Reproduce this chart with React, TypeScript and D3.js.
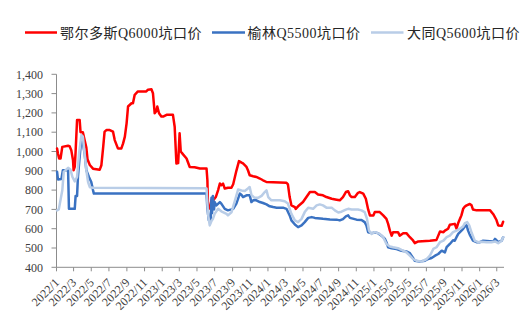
import React from "react";
import * as d3 from "d3";

// 坑口价 (元/吨), sampled at the dates where the price path turns
const ordosQ6000: [string, number][] = [
  ["2022-01-03", 1016], ["2022-01-06", 990], ["2022-01-10", 964], ["2022-01-15", 964],
  ["2022-01-21", 1024], ["2022-02-10", 1030], ["2022-02-15", 1028], ["2022-02-21", 1007],
  ["2022-02-27", 955], ["2022-03-01", 903], ["2022-03-05", 920], ["2022-03-08", 1000],
  ["2022-03-13", 1163], ["2022-03-22", 1163], ["2022-03-25", 1100], ["2022-04-02", 1100],
  ["2022-04-08", 1059], ["2022-04-14", 1020], ["2022-04-18", 960], ["2022-04-26", 930],
  ["2022-05-07", 911], ["2022-05-30", 905], ["2022-06-05", 929], ["2022-06-11", 1020],
  ["2022-06-16", 1103], ["2022-06-23", 1111], ["2022-07-04", 1111], ["2022-07-15", 1103],
  ["2022-07-21", 1059], ["2022-08-01", 1016], ["2022-08-13", 1016], ["2022-08-19", 1042],
  ["2022-08-25", 1077], ["2022-08-31", 1146], ["2022-09-05", 1233], ["2022-09-17", 1250],
  ["2022-09-22", 1250], ["2022-09-28", 1294], ["2022-10-09", 1311], ["2022-11-07", 1311],
  ["2022-11-13", 1320], ["2022-11-25", 1322], ["2022-11-30", 1302], ["2022-12-03", 1250],
  ["2022-12-06", 1198], ["2022-12-12", 1210], ["2022-12-15", 1233], ["2022-12-21", 1198],
  ["2022-12-29", 1181], ["2023-01-04", 1181], ["2023-01-16", 1190], ["2023-02-07", 1190],
  ["2023-02-13", 1128], ["2023-02-19", 938], ["2023-02-25", 940], ["2023-03-02", 1094],
  ["2023-03-06", 1000], ["2023-03-14", 985], ["2023-03-26", 964], ["2023-04-06", 920],
  ["2023-04-23", 918], ["2023-05-11", 912], ["2023-06-03", 912], ["2023-06-06", 851],
  ["2023-06-08", 712], ["2023-06-14", 705], ["2023-06-20", 747], ["2023-06-25", 745],
  ["2023-07-05", 764], ["2023-07-13", 800], ["2023-07-19", 834], ["2023-07-24", 825],
  ["2023-07-30", 834], ["2023-08-05", 808], ["2023-08-16", 812], ["2023-08-28", 812],
  ["2023-09-03", 830], ["2023-09-14", 900], ["2023-09-23", 950], ["2023-10-02", 942],
  ["2023-10-07", 938], ["2023-10-19", 920], ["2023-10-24", 903], ["2023-10-30", 877],
  ["2023-11-11", 872], ["2023-11-22", 868], ["2023-12-04", 860], ["2023-12-15", 851],
  ["2023-12-27", 842], ["2024-03-05", 838], ["2024-03-10", 830], ["2024-03-16", 764],
  ["2024-03-22", 721], ["2024-04-03", 712], ["2024-04-06", 703], ["2024-04-14", 716],
  ["2024-05-01", 738], ["2024-05-13", 764], ["2024-05-25", 790], ["2024-06-11", 790],
  ["2024-06-22", 777], ["2024-07-09", 773], ["2024-07-21", 764], ["2024-08-08", 755],
  ["2024-08-25", 750], ["2024-09-05", 747], ["2024-09-16", 764], ["2024-09-26", 790],
  ["2024-10-04", 794], ["2024-10-10", 773], ["2024-10-16", 764], ["2024-10-27", 764],
  ["2024-11-07", 786], ["2024-11-13", 790], ["2024-11-25", 782], ["2024-12-04", 755],
  ["2024-12-12", 700], ["2024-12-18", 669], ["2024-12-30", 669], ["2025-01-04", 686],
  ["2025-01-21", 686], ["2025-02-02", 669], ["2025-02-13", 651], ["2025-02-19", 625],
  ["2025-02-25", 590], ["2025-03-03", 564], ["2025-03-08", 582], ["2025-03-25", 582],
  ["2025-03-31", 564], ["2025-04-12", 577], ["2025-04-23", 577], ["2025-05-05", 556],
  ["2025-05-16", 539], ["2025-05-22", 525], ["2025-06-03", 534], ["2025-07-13", 538],
  ["2025-08-05", 542], ["2025-08-11", 564], ["2025-08-17", 585], ["2025-08-29", 582],
  ["2025-09-03", 590], ["2025-09-14", 600], ["2025-09-20", 620], ["2025-10-07", 625],
  ["2025-10-13", 600], ["2025-10-19", 630], ["2025-10-25", 651], ["2025-10-30", 669],
  ["2025-11-05", 703], ["2025-11-11", 715], ["2025-11-17", 721], ["2025-11-28", 728],
  ["2025-12-04", 721], ["2025-12-09", 699], ["2025-12-21", 695], ["2026-02-06", 695],
  ["2026-02-17", 675], ["2026-02-28", 645], ["2026-03-06", 617], ["2026-03-18", 615],
  ["2026-03-23", 636],
];

const yulinQ5500: [string, number][] = [
  ["2022-01-03", 895], ["2022-01-06", 855], ["2022-01-18", 858], ["2022-01-23", 903],
  ["2022-02-10", 903], ["2022-02-13", 703], ["2022-03-05", 703], ["2022-03-08", 770],
  ["2022-03-13", 770], ["2022-03-16", 868], ["2022-03-24", 1007], ["2022-03-28", 1060],
  ["2022-04-02", 1042], ["2022-04-08", 990], ["2022-04-14", 903], ["2022-04-23", 868],
  ["2022-05-01", 842], ["2022-05-07", 800], ["2022-05-10", 782], ["2023-05-28", 782],
  ["2023-06-03", 782], ["2023-06-06", 703], ["2023-06-11", 643], ["2023-06-14", 660],
  ["2023-06-17", 634], ["2023-06-20", 760], ["2023-06-22", 680], ["2023-06-25", 770],
  ["2023-06-29", 700], ["2023-07-01", 738], ["2023-07-07", 721], ["2023-07-19", 738],
  ["2023-07-24", 730], ["2023-08-05", 703], ["2023-08-16", 695], ["2023-08-28", 700],
  ["2023-09-03", 703], ["2023-09-14", 730], ["2023-09-26", 782], ["2023-10-02", 775],
  ["2023-10-07", 764], ["2023-10-19", 773], ["2023-10-30", 773], ["2023-11-05", 738],
  ["2023-11-11", 747], ["2023-11-22", 747], ["2023-12-04", 738], ["2023-12-15", 733],
  ["2023-12-27", 726], ["2024-01-07", 716], ["2024-01-19", 712], ["2024-01-31", 709],
  ["2024-02-22", 709], ["2024-03-05", 703], ["2024-03-16", 669], ["2024-03-22", 643],
  ["2024-04-03", 622], ["2024-04-14", 608], ["2024-04-26", 617], ["2024-05-07", 634],
  ["2024-05-19", 656], ["2024-05-31", 660], ["2024-06-11", 656], ["2024-07-09", 651],
  ["2024-08-02", 648], ["2024-08-25", 647], ["2024-09-05", 643], ["2024-09-16", 650],
  ["2024-09-26", 664], ["2024-10-04", 669], ["2024-10-10", 656], ["2024-11-02", 647],
  ["2024-11-19", 645], ["2024-11-30", 634], ["2024-12-06", 617], ["2024-12-12", 582],
  ["2024-12-24", 577], ["2025-01-04", 580], ["2025-01-15", 577], ["2025-01-27", 564],
  ["2025-02-08", 547], ["2025-02-13", 530], ["2025-02-19", 504], ["2025-03-03", 499],
  ["2025-03-20", 495], ["2025-04-06", 486], ["2025-04-23", 482], ["2025-05-05", 473],
  ["2025-05-16", 448], ["2025-05-22", 434], ["2025-06-08", 430], ["2025-06-26", 434],
  ["2025-07-07", 443], ["2025-07-19", 448], ["2025-07-31", 460], ["2025-08-11", 469],
  ["2025-08-23", 486], ["2025-09-03", 477], ["2025-09-09", 504], ["2025-09-20", 521],
  ["2025-10-01", 540], ["2025-10-07", 538], ["2025-10-13", 556], ["2025-10-19", 573],
  ["2025-10-25", 582], ["2025-11-05", 599], ["2025-11-11", 612], ["2025-11-17", 617],
  ["2025-11-22", 590], ["2025-11-28", 568], ["2025-12-09", 538], ["2025-12-21", 530],
  ["2026-01-02", 530], ["2026-01-13", 538], ["2026-02-17", 534], ["2026-02-23", 547],
  ["2026-02-28", 540], ["2026-03-06", 530], ["2026-03-18", 538], ["2026-03-23", 556],
];

const datongQ5600: [string, number][] = [
  ["2022-01-03", 695], ["2022-01-09", 700], ["2022-01-21", 799], ["2022-01-26", 894],
  ["2022-02-10", 915], ["2022-02-18", 907], ["2022-02-25", 868], ["2022-03-05", 845],
  ["2022-03-13", 868], ["2022-03-20", 990], ["2022-03-28", 1085], ["2022-04-02", 1077],
  ["2022-04-08", 990], ["2022-04-14", 903], ["2022-04-20", 842], ["2022-04-26", 815],
  ["2022-05-07", 812], ["2023-05-28", 810], ["2023-06-03", 808], ["2023-06-08", 677],
  ["2023-06-14", 617], ["2023-06-20", 640], ["2023-06-25", 651], ["2023-07-01", 677],
  ["2023-07-13", 703], ["2023-07-24", 690], ["2023-08-11", 677], ["2023-08-16", 669],
  ["2023-08-28", 685], ["2023-09-08", 740], ["2023-09-20", 803], ["2023-10-02", 798],
  ["2023-10-13", 795], ["2023-10-24", 808], ["2023-10-30", 816], ["2023-11-05", 775],
  ["2023-11-16", 760], ["2023-11-28", 760], ["2023-12-10", 770], ["2023-12-21", 790],
  ["2023-12-27", 799], ["2024-01-02", 764], ["2024-01-13", 747], ["2024-02-11", 747],
  ["2024-02-28", 742], ["2024-03-10", 730], ["2024-03-22", 677], ["2024-04-03", 643],
  ["2024-04-14", 634], ["2024-04-26", 651], ["2024-05-07", 686], ["2024-05-19", 709],
  ["2024-06-05", 703], ["2024-06-17", 721], ["2024-06-28", 726], ["2024-07-09", 721],
  ["2024-07-21", 709], ["2024-08-08", 709], ["2024-08-19", 695], ["2024-08-31", 684],
  ["2024-09-11", 688], ["2024-09-26", 699], ["2024-10-04", 703], ["2024-10-16", 699],
  ["2024-11-07", 699], ["2024-11-19", 695], ["2024-11-30", 686], ["2024-12-08", 651],
  ["2024-12-15", 590], ["2024-12-24", 573], ["2025-01-04", 582], ["2025-01-21", 573],
  ["2025-02-02", 556], ["2025-02-13", 521], ["2025-02-25", 508], ["2025-03-08", 504],
  ["2025-03-25", 499], ["2025-04-06", 490], ["2025-04-23", 478], ["2025-05-05", 460],
  ["2025-05-16", 443], ["2025-05-28", 434], ["2025-06-14", 430], ["2025-07-02", 443],
  ["2025-07-13", 460], ["2025-07-25", 495], ["2025-08-05", 504], ["2025-08-17", 530],
  ["2025-08-29", 538], ["2025-09-09", 556], ["2025-09-20", 564], ["2025-10-01", 582],
  ["2025-10-13", 590], ["2025-10-25", 600], ["2025-11-05", 612], ["2025-11-11", 629],
  ["2025-11-19", 634], ["2025-11-26", 617], ["2025-12-04", 580], ["2025-12-15", 538],
  ["2025-12-27", 530], ["2026-01-07", 532], ["2026-01-25", 530], ["2026-02-11", 530],
  ["2026-02-23", 534], ["2026-03-06", 525], ["2026-03-18", 538], ["2026-03-23", 556],
];

const seriesNames = ["鄂尔多斯Q6000坑口价", "榆林Q5500坑口价", "大同Q5600坑口价"];
const seriesColors = ["#FF0000", "#3A72C2", "#B9CDE7"];
const yTicks = [400, 500, 600, 700, 800, 900, 1000, 1100, 1200, 1300, 1400];
const xStart = "2022-01-01";
const xEnd = "2026-03-26";

const W = 529;
const H = 331;
const plot = { left: 56.5, right: 504, top: 74.3, bottom: 267.3 };
const serif = "'Times New Roman', 'Liberation Serif', 'Noto Sans CJK SC', serif";

const parse = d3.timeParse("%Y-%m-%d");
const fmtTick = d3.timeFormat("%Y/%-m");

export default function App() {
  const x = d3
    .scaleTime()
    .domain([parse(xStart)!, parse(xEnd)!])
    .range([plot.left, plot.right]);
  const y = d3.scaleLinear().domain([400, 1400]).range([plot.bottom, plot.top]);

  const line = d3
    .line<[string, number]>()
    .x((d) => x(parse(d[0])!))
    .y((d) => y(d[1]));

  const series = [ordosQ6000, yulinQ5500, datongQ5600];
  const xTicks = d3.timeMonth.every(2)!.range(parse(xStart)!, parse(xEnd)!);

  const legendItems = [
    { x1: 25, x2: 57, tx: 60 },
    { x1: 212, x2: 245, tx: 247.5 },
    { x1: 371, x2: 403.5, tx: 407 },
  ];

  return (
    <svg
      width={W}
      height={H}
      viewBox={`0 0 ${W} ${H}`}
      style={{ position: "absolute", left: 0, top: 0, background: "#fff" }}
    >
      <rect x={0} y={0} width={W} height={H} fill="#fff" />

      {/* legend */}
      {legendItems.map((it, i) => (
        <g key={seriesNames[i]}>
          <line
            x1={it.x1}
            x2={it.x2}
            y1={32.5}
            y2={32.5}
            stroke={seriesColors[i]}
            strokeWidth={2.5}
          />
          <text
            x={it.tx}
            y={37.5}
            fontFamily={serif}
            fontSize={14}
            letterSpacing={0.5}
            fill="#262626"
          >
            {seriesNames[i]}
          </text>
        </g>
      ))}

      {/* y axis */}
      <line
        x1={plot.left}
        x2={plot.left}
        y1={plot.top}
        y2={plot.bottom}
        stroke="#8c8c8c"
        strokeWidth={1}
      />
      {yTicks.map((t) => (
        <g key={t}>
          <line
            x1={plot.left - 5}
            x2={plot.left}
            y1={y(t)}
            y2={y(t)}
            stroke="#8c8c8c"
            strokeWidth={1}
          />
          <text
            x={43}
            y={y(t)}
            dy="0.35em"
            textAnchor="end"
            fontFamily={serif}
            fontSize={12}
            fill="#404040"
          >
            {d3.format(",")(t)}
          </text>
        </g>
      ))}

      {/* x axis */}
      <line
        x1={plot.left}
        x2={plot.right}
        y1={plot.bottom}
        y2={plot.bottom}
        stroke="#8c8c8c"
        strokeWidth={1}
      />
      {xTicks.map((t) => {
        const tx = x(t);
        return (
          <g key={t.toISOString()}>
            <line
              x1={tx}
              x2={tx}
              y1={plot.bottom}
              y2={plot.bottom + 4}
              stroke="#8c8c8c"
              strokeWidth={1}
            />
            <text
              transform={`translate(${tx + 3.5},${plot.bottom + 16}) rotate(-45)`}
              textAnchor="end"
              fontFamily={serif}
              fontSize={12}
              fill="#404040"
            >
              {fmtTick(t)}
            </text>
          </g>
        );
      })}

      {/* price lines */}
      {series.map((s, i) => (
        <path
          key={seriesNames[i]}
          d={line(s) ?? ""}
          fill="none"
          stroke={seriesColors[i]}
          strokeWidth={2.5}
          strokeLinejoin="round"
          strokeLinecap="round"
        />
      ))}
    </svg>
  );
}
